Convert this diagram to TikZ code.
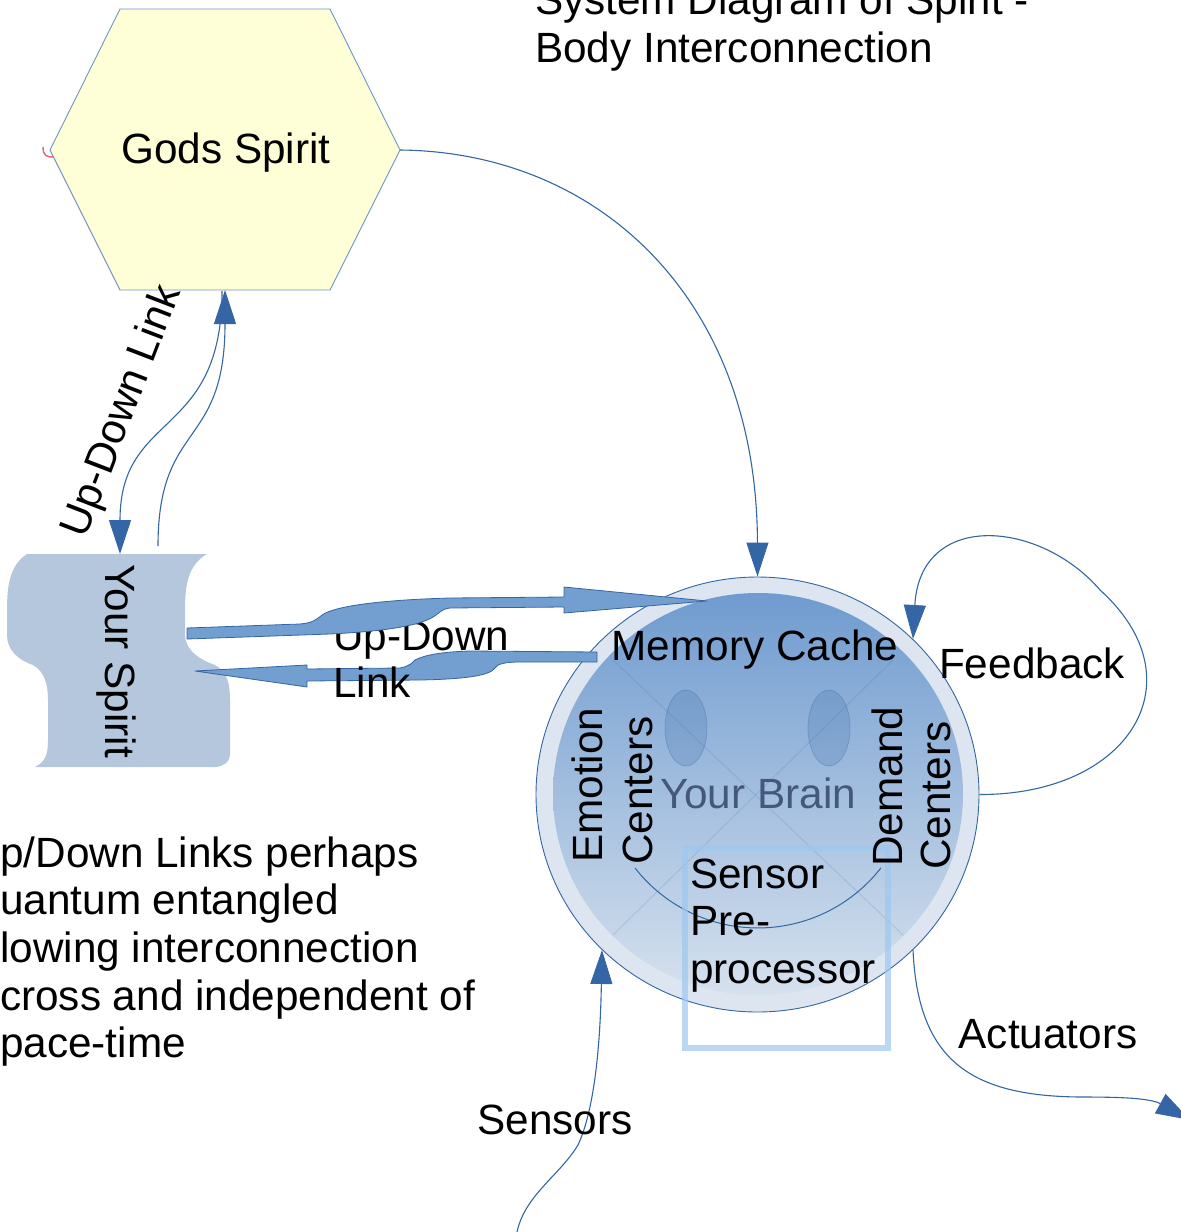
\documentclass[tikz,border=0pt]{standalone}
\usepackage{fontspec}
\setmainfont{Liberation Sans}
\usetikzlibrary{arrows.meta,shapes.geometric}
\definecolor{lineblue}{HTML}{3465A4}
\definecolor{arrowfill}{HTML}{729FCF}
\definecolor{hexfill}{HTML}{FFFFD7}
\definecolor{hexedge}{HTML}{6F93C4}
\definecolor{spiritfill}{HTML}{B4C7DC}
\definecolor{ringfill}{HTML}{DCE5F0}
\definecolor{disctop}{HTML}{6F9BCF}
\definecolor{discbot}{HTML}{D6E1EE}
\definecolor{boxblue}{HTML}{9CC8F0}
\definecolor{braintext}{HTML}{43587A}
\definecolor{markred}{HTML}{E06A80}
\newcommand{\mlines}[1]{\begin{tabular}[t]{@{}l@{}}#1\end{tabular}}
\begin{document}
\begin{tikzpicture}[x=1pt,y=-1pt,
  every node/.style={inner sep=0pt, font=\fontsize{42.3}{47.7}\selectfont},
  conn/.style={draw=lineblue, line width=1.1pt, -{Triangle[length=34pt,width=22pt]}},
  fat/.style={fill=arrowfill, draw=lineblue, line width=0.8pt, line join=round},
  xline/.style={draw=lineblue, draw opacity=0.2, line width=0.8pt},
  eye/.style={fill=lineblue, fill opacity=0.2, draw=lineblue, draw opacity=0.3, line width=0.8pt},
]
\useasboundingbox (0,0) rectangle (1181,1232);

% Gods Spirit hexagon
\draw[fill=hexfill, draw=hexedge, line width=0.9pt]
  (120,9) -- (330,9) -- (400,150) -- (330,290) -- (120,290) -- (50,150) -- cycle;
\node[anchor=base] (gods) at (226,163) {Gods Spirit};
\coordinate (godsR) at (400,150);
\coordinate (godsB1) at (222,291);
\coordinate (godsB2) at (225,290);
\draw[markred, line width=1.5pt] (43,147) .. controls (43,156) and (47,157) .. (53,157);

% Your Spirit shape
\fill[spiritfill] (27,554) -- (207,554)
  .. controls (188,565) and (185,585) .. (185,610) -- (185,635)
  .. controls (185,650) and (200,660) .. (215,665)
  .. controls (228,672) and (230,685) .. (230,700) -- (230,755)
  .. controls (230,762) and (222,767) .. (215,767) -- (35,767)
  .. controls (45,762) and (48,755) .. (48,740) -- (48,700)
  .. controls (48,685) and (45,672) .. (33,665)
  .. controls (18,660) and (7,650) .. (7,635) -- (7,610)
  .. controls (7,585) and (10,565) .. (27,554) -- cycle;
\node[rotate=-90] (ys) at (116,661) {Your Spirit};
\coordinate (ysT1) at (120,554);
\coordinate (ysT2) at (158,546);

% Brain
\node[ellipse, draw=lineblue, line width=0.9pt, fill=ringfill,
      minimum width=443pt, minimum height=435pt] (brain) at (757.5,794.5) {};
\shade[top color=disctop, bottom color=discbot] (758,794) ellipse [x radius=205, y radius=201];
\draw[xline] (613,660) -- (903,935);
\draw[xline] (893,660) -- (613,935);
\draw[eye] (686,728) ellipse [x radius=21, y radius=38];
\draw[eye] (829,728) ellipse [x radius=21, y radius=38];
\draw[draw=lineblue, line width=1pt] (635,868) arc[start angle=142, end angle=38, radius=156];

% Sensor pre-processor box
\node[draw=boxblue, draw opacity=0.7, line width=6pt,
      minimum width=203pt, minimum height=200pt] (spp) at (786.5,948) {};

% Brain texts
\node[anchor=base] (mem) at (755,660) {Memory Cache};
\node[anchor=base, text=braintext] (yb) at (758,808) {Your Brain};
\node[rotate=90, anchor=base west] (emo) at (602,863) {Emotion};
\node[rotate=90, anchor=base west] (cen1) at (652,865) {Centers};
\node[rotate=90, anchor=base west] (dem) at (902,867) {Demand};
\node[rotate=90, anchor=base west] (cen2) at (950,870) {Centers};
\node[anchor=base west] (spt) at (690,888) {\mlines{Sensor\\Pre-\\processor}};

% Fat link arrows
\draw[fat] (597,652) -- (470,651) .. controls (440,652) and (425,655) .. (415,660)
  .. controls (412,663) and (410,666) .. (400,668) -- (307,669) -- (307,665)
  -- (195,671) -- (307,687) -- (307,681) -- (420,680)
  .. controls (470,679) and (490,675) .. (495,668)
  .. controls (497,664) and (505,662) .. (520,662) -- (597,662) -- cycle;
\node[anchor=base west] (udl2) at (333,650) {\mlines{Up-Down\\Link}};
\draw[fat] (187,628) -- (300,624) .. controls (312,623) and (316,620) .. (322,615)
  .. controls (335,606) and (380,600) .. (450,598) -- (564,597) -- (564,587)
  -- (707,601) -- (564,613) -- (564,607) -- (450,608)
  .. controls (441,609) and (440,613) .. (433,617)
  .. controls (420,625) and (390,631) .. (330,634) -- (187,639) -- cycle;

% Thin connectors
\draw[conn] (godsB1) .. controls (222,440) and (120,410) .. (ysT1);
\draw[conn] (ysT2) .. controls (158,420) and (225,450) .. (godsB2);
\draw[conn] (godsR) .. controls (600,152) and (757,300) .. (brain.north);
\draw[conn] (brain.east) .. controls (1130,795) and (1200,680) .. (1100,590)
  .. controls (1040,520) and (920,510) .. (brain.45);
\coordinate (sensIn) at (517,1232);
\draw[conn] (sensIn) .. controls (525,1195) and (560,1175) .. (578,1145)
  .. controls (592,1115) and (600,1060) .. (brain.225);
\coordinate (actOut) at (1190,1120);
\draw[conn] (brain.-45) .. controls (918,1060) and (970,1096) .. (1080,1097)
  .. controls (1120,1097) and (1150,1098) .. (actOut);

% Labels
\node[rotate=69] (udl1) at (123,412) {Up-Down Link};
\node[anchor=base] (fb) at (1032,678) {Feedback};
\node[anchor=base] (act) at (1048,1048) {Actuators};
\node[anchor=base] (sens) at (555,1134) {Sensors};
\node[anchor=base west] (title) at (535,14.3) {\mlines{System Diagram of Spirit -\\Body Interconnection}};
\node[anchor=base west] (para) at (0,867) {\mlines{p/Down Links perhaps\\uantum entangled\\lowing interconnection\\cross and independent of\\pace-time}};
\end{tikzpicture}
\end{document}
